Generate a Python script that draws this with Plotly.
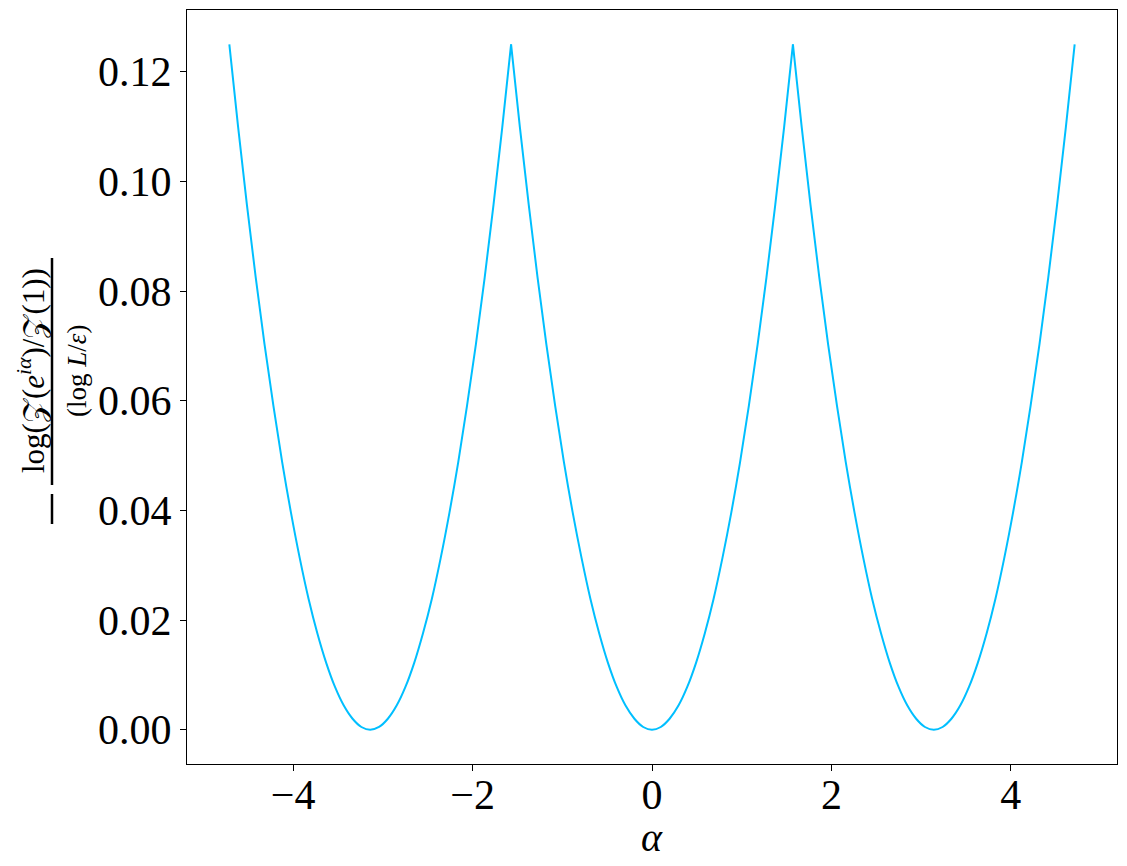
import plotly.graph_objects as go

# alpha grid (step ~ pi/32)
alpha = [
    -4.712, -4.614, -4.516, -4.418, -4.320, -4.221, -4.123, -4.025, -3.927, -3.829,
    -3.731, -3.632, -3.534, -3.436, -3.338, -3.240, -3.142, -3.043, -2.945, -2.847,
    -2.749, -2.651, -2.553, -2.454, -2.356, -2.258, -2.160, -2.062, -1.963, -1.865,
    -1.767, -1.669, -1.571, -1.473, -1.374, -1.276, -1.178, -1.080, -0.982, -0.884,
    -0.785, -0.687, -0.589, -0.491, -0.393, -0.295, -0.196, -0.098, 0.000, 0.098,
    0.196, 0.295, 0.393, 0.491, 0.589, 0.687, 0.785, 0.884, 0.982, 1.080,
    1.178, 1.276, 1.374, 1.473, 1.571, 1.669, 1.767, 1.865, 1.963, 2.062,
    2.160, 2.258, 2.356, 2.454, 2.553, 2.651, 2.749, 2.847, 2.945, 3.043,
    3.142, 3.240, 3.338, 3.436, 3.534, 3.632, 3.731, 3.829, 3.927, 4.025,
    4.123, 4.221, 4.320, 4.418, 4.516, 4.614, 4.712,
]

# curve values
value = [
    0.1250, 0.1099, 0.0957, 0.0825, 0.0703, 0.0591, 0.0488, 0.0396, 0.0313, 0.0239,
    0.0176, 0.0122, 0.0078, 0.0044, 0.0020, 0.0005, 0.0000, 0.0005, 0.0020, 0.0044,
    0.0078, 0.0122, 0.0176, 0.0239, 0.0313, 0.0396, 0.0488, 0.0591, 0.0703, 0.0825,
    0.0957, 0.1099, 0.1250, 0.1099, 0.0957, 0.0825, 0.0703, 0.0591, 0.0488, 0.0396,
    0.0313, 0.0239, 0.0176, 0.0122, 0.0078, 0.0044, 0.0020, 0.0005, 0.0000, 0.0005,
    0.0020, 0.0044, 0.0078, 0.0122, 0.0176, 0.0239, 0.0313, 0.0396, 0.0488, 0.0591,
    0.0703, 0.0825, 0.0957, 0.1099, 0.1250, 0.1099, 0.0957, 0.0825, 0.0703, 0.0591,
    0.0488, 0.0396, 0.0313, 0.0239, 0.0176, 0.0122, 0.0078, 0.0044, 0.0020, 0.0005,
    0.0000, 0.0005, 0.0020, 0.0044, 0.0078, 0.0122, 0.0176, 0.0239, 0.0313, 0.0396,
    0.0488, 0.0591, 0.0703, 0.0825, 0.0957, 0.1099, 0.1250,
]

x_ticks = [-4, -2, 0, 2, 4]
y_ticks = [0.00, 0.02, 0.04, 0.06, 0.08, 0.10, 0.12]

FONT = "Liberation Serif"
COLOR = "#00BFFF"

fig = go.Figure()
# draw smooth arcs between the cusps (peaks), keeping the cusps sharp
vmax = max(value)
cusps = [i for i, v in enumerate(value) if v == vmax]
for a, b in zip(cusps[:-1], cusps[1:]):
    fig.add_trace(go.Scatter(x=alpha[a:b + 1], y=value[a:b + 1], mode="lines",
                             line=dict(color=COLOR, width=2, shape="spline", smoothing=1),
                             showlegend=False))
if cusps[0] > 0:
    fig.add_trace(go.Scatter(x=alpha[:cusps[0] + 1], y=value[:cusps[0] + 1], mode="lines",
                             line=dict(color=COLOR, width=2, shape="spline"), showlegend=False))
if cusps[-1] < len(value) - 1:
    fig.add_trace(go.Scatter(x=alpha[cusps[-1]:], y=value[cusps[-1]:], mode="lines",
                             line=dict(color=COLOR, width=2, shape="spline"), showlegend=False))

# the page body adds an 8px offset, so the figure is 8px smaller than the window
fig.update_layout(
    width=1119, height=858,
    margin=dict(l=179, r=10, t=2, b=102, autoexpand=False),
    plot_bgcolor="white", paper_bgcolor="white",
    font=dict(family=FONT, color="black"),
)
fig.update_xaxes(
    range=[-5.184, 5.184], tickvals=x_ticks, automargin=False,
    ticks="outside", ticklen=6, tickwidth=1, tickcolor="black",
    showline=True, linecolor="black", linewidth=1, mirror=True,
    showgrid=False, zeroline=False, ticklabelstandoff=-12,
    tickfont=dict(family=FONT, size=42),
)
fig.update_yaxes(
    range=[-0.00625, 0.13125], tickvals=y_ticks, tickformat=".2f", automargin=False,
    ticks="outside", ticklen=6, tickwidth=1, tickcolor="black",
    showline=True, linecolor="black", linewidth=1, mirror=True,
    showgrid=False, zeroline=False, ticklabelstandoff=0,
    tickfont=dict(family=FONT, size=42),
)

# helpers: reference-picture pixels -> paper coords
W, H = 930.0, 754.0
def px_x(p):
    return (p - 187) / W
def px_y(p):
    return (764 - p) / H

# x-axis label
fig.add_annotation(
    x=px_x(652), y=px_y(837), xref="paper", yref="paper", showarrow=False,
    text="<i>α</i>", font=dict(family=FONT, size=40),
    xanchor="center", yanchor="middle",
)

# y-axis label drawn as a rotated fraction
fig.add_annotation(
    x=px_x(32), y=px_y(371), xref="paper", yref="paper", showarrow=False,
    text="log(𝒵(<i>e</i><sup><i>iα</i></sup>)/𝒵(1))", textangle=-90,
    font=dict(family=FONT, size=31), xanchor="center", yanchor="middle",
)
fig.add_annotation(
    x=px_x(77), y=px_y(371), xref="paper", yref="paper", showarrow=False,
    text="(log <i>L</i>/<i>ε</i>)", textangle=-90,
    font=dict(family=FONT, size=27), xanchor="center", yanchor="middle",
)
fig.add_shape(type="line", xref="paper", yref="paper",
              x0=px_x(52), x1=px_x(52), y0=px_y(485), y1=px_y(258),
              line=dict(color="black", width=2.5))
fig.add_shape(type="line", xref="paper", yref="paper",
              x0=px_x(52), x1=px_x(52), y0=px_y(524), y1=px_y(494),
              line=dict(color="black", width=2.5))

fig.write_html("out.html")
